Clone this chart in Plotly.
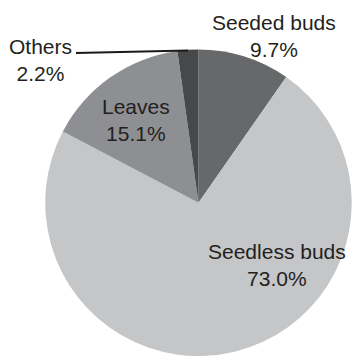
import plotly.graph_objects as go

labels = ["Seeded buds", "Seedless buds", "Leaves", "Others"]
values = [9.7, 73.0, 15.1, 2.2]
colors = ["#67686a", "#c5c6c8", "#8e8f92", "#47484a"]

W, H = 352, 356

fig = go.Figure(go.Pie(
    labels=labels, values=values, sort=False, direction="clockwise", rotation=0,
    marker=dict(colors=colors, line=dict(width=0)),
    textinfo="none", hoverinfo="none",
    domain=dict(x=[45/W, 1.0], y=[0.0, 306.5/H]),
    showlegend=False,
))

font = dict(family="Liberation Sans, Arial, sans-serif", size=21, color="#231f20")
# label positions (pixels from top-left)
pos = {
    "Seeded buds": (274, 36),
    "Seedless buds": (277, 265),
    "Leaves": (136, 120),
    "Others": (40, 60),
}
for lab, val in zip(labels, values):
    x, y = pos[lab]
    fig.add_annotation(x=x/W, y=1 - y/H, xref="paper", yref="paper",
                       text=f"{lab}<br>{val:.1f}%", showarrow=False,
                       font=font, align="center", xanchor="center", yanchor="middle")

fig.add_shape(type="line", xref="paper", yref="paper",
              x0=76/W, y0=1 - 53/H, x1=188/W, y1=1 - 50.5/H,
              line=dict(color="#1a1a1a", width=2))

fig.update_layout(width=W, height=H, margin=dict(l=0, r=0, t=0, b=0),
                  paper_bgcolor="white", plot_bgcolor="white")
fig.write_html("out.html")
